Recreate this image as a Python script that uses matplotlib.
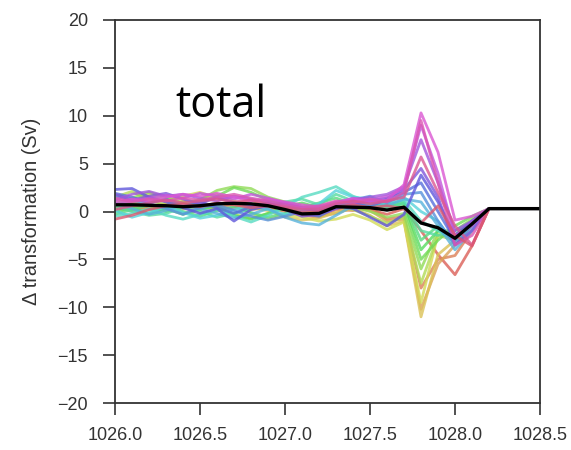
import matplotlib
matplotlib.use("Agg")
import matplotlib.pyplot as plt
import seaborn as sns

# Potential density grid (x axis)
density = [1026.0, 1026.1, 1026.2, 1026.3, 1026.4, 1026.5, 1026.6, 1026.7, 1026.8,
           1026.9, 1027.0, 1027.1, 1027.2, 1027.3, 1027.4, 1027.5, 1027.6, 1027.7,
           1027.8, 1027.9, 1028.0, 1028.1, 1028.2, 1028.3, 1028.4, 1028.5]

# Change in transformation (Sv) for each ensemble member
member_00 = [0.2, 0.5, 0.3, 0.6, 0.4, 0.8, 0.5, 0.3, 0.6, 0.9, 0.4, 0.1, -0.2, 0.3, 0.6, 0.2, -0.3, 0.3, -2.0, -4.5, -6.6, -3.6, 0.3, 0.3, 0.3, 0.3]
member_01 = [0.4, 0.1, 0.5, 0.8, 0.3, 0.2, 0.9, 0.6, 0.2, 0.4, 0.0, -0.4, -0.6, 0.2, 0.1, 0.5, -0.8, -0.5, -8.0, -5.0, -4.6, -2.0, 0.3, 0.3, 0.3, 0.3]
member_02 = [0.9, 0.6, 0.2, 0.4, 1.1, 0.7, 0.3, 0.8, 1.2, 0.5, 0.2, -0.3, -0.5, -0.2, 0.4, 0.1, -1.0, -0.8, -10.2, -5.5, -3.5, -1.5, 0.3, 0.3, 0.3, 0.3]
member_03 = [1.2, 0.8, 1.5, 1.0, 0.6, 1.3, 1.8, 1.1, 0.4, 0.1, -0.6, -0.9, -0.7, -0.1, 0.3, -0.4, -1.5, -1.0, -11.0, -4.5, -3.0, -1.0, 0.3, 0.3, 0.3, 0.3]
member_04 = [0.5, 1.0, 1.8, 1.2, 1.6, 2.0, 1.4, 0.9, -0.2, -0.8, -0.4, -0.6, -1.0, -0.8, -0.3, -0.9, -1.9, -1.1, -9.5, -2.4, -2.5, -1.0, 0.3, 0.3, 0.3, 0.3]
member_05 = [1.5, 2.1, 1.2, 0.7, 1.0, 0.5, 0.2, -0.3, -0.7, -0.2, 0.3, -0.2, 0.1, 0.6, 0.2, -0.5, -1.2, -0.6, -7.5, -2.5, -3.0, -1.2, 0.3, 0.3, 0.3, 0.3]
member_06 = [0.8, 1.4, 2.0, 1.5, 0.9, 1.2, 2.2, 2.6, 2.4, 1.5, 1.0, 0.6, 0.2, 0.9, 0.5, 0.0, -0.6, -0.2, -6.0, -2.0, -2.0, -0.8, 0.3, 0.3, 0.3, 0.3]
member_07 = [0.3, 0.9, 0.6, 0.0, 0.5, 0.9, 1.6, 2.5, 2.0, 1.2, 0.8, 0.2, -0.4, 0.5, 1.0, 0.6, 0.2, 0.5, -5.0, -3.0, -1.5, -0.5, 0.3, 0.3, 0.3, 0.3]
member_08 = [0.0, 0.4, -0.2, 0.3, -0.3, 0.2, 0.6, -0.4, -0.8, -0.2, 0.5, 0.9, 0.4, 0.8, 0.3, 0.9, 0.5, 0.8, -4.0, -2.0, -2.5, -1.0, 0.3, 0.3, 0.3, 0.3]
member_09 = [-0.3, 0.2, 0.7, 0.4, 0.0, -0.5, 0.1, 0.5, -0.1, -0.6, -0.2, 0.4, 0.9, 1.4, 0.8, 1.2, 0.7, 1.0, -3.0, -1.5, -3.0, -1.5, 0.3, 0.3, 0.3, 0.3]
member_10 = [0.6, 0.0, -0.4, -0.2, 0.4, 0.0, -0.6, -0.2, 0.3, 0.6, 1.0, 1.3, 0.7, 1.8, 1.1, 0.7, 0.3, 0.9, -2.0, -2.5, -2.0, -1.0, 0.3, 0.3, 0.3, 0.3]
member_11 = [-0.5, -0.2, 0.3, -0.4, -0.8, -0.3, 0.2, -0.5, -1.1, -0.4, 0.5, 1.5, 2.0, 2.6, 1.6, 1.0, 0.8, 1.2, -1.0, -2.0, -3.0, -1.5, 0.3, 0.3, 0.3, 0.3]
member_12 = [0.1, -0.6, -0.1, 0.5, -0.1, -0.7, -0.4, 0.2, 0.6, 0.2, -0.3, 0.1, 0.8, 2.2, 1.5, 1.3, 1.1, 1.5, 0.0, -1.0, -3.5, -2.0, 0.3, 0.3, 0.3, 0.3]
member_13 = [0.9, 0.3, -0.3, 0.1, 0.7, 0.3, -0.2, -0.7, -0.3, 0.3, -0.6, -1.2, -1.4, -0.4, 0.6, 1.0, 0.6, 1.3, 1.0, -1.5, -4.0, -2.0, 0.3, 0.3, 0.3, 0.3]
member_14 = [1.6, 1.2, 0.8, 0.3, -0.3, 0.4, 0.7, 0.1, -0.5, -0.9, -0.5, 0.0, 0.5, 0.7, 1.2, 1.6, 0.9, 1.8, 2.0, -1.0, -3.5, -1.5, 0.3, 0.3, 0.3, 0.3]
member_15 = [1.9, 1.5, 0.9, 1.3, 0.6, 1.0, 0.4, -0.2, 0.5, 0.9, 0.3, -0.2, -0.5, 0.4, 0.9, 0.5, 1.3, 2.0, 3.0, 0.0, -3.0, -1.0, 0.3, 0.3, 0.3, 0.3]
member_16 = [2.3, 2.4, 1.5, 1.0, 0.4, -0.2, 0.3, -1.0, 0.2, 0.6, 0.9, 0.4, 0.0, 0.6, 0.3, -0.6, -1.5, -0.3, 3.8, 1.0, -2.5, -1.0, 0.3, 0.3, 0.3, 0.3]
member_17 = [1.8, 1.2, 1.6, 1.9, 1.3, 0.8, 1.5, 0.9, 0.6, 0.8, 0.2, -0.5, -0.3, 0.3, 0.8, 1.1, 1.4, 2.3, 4.5, 1.5, -3.5, -2.0, 0.3, 0.3, 0.3, 0.3]
member_18 = [1.2, 1.8, 2.1, 1.6, 1.8, 1.4, 1.1, 1.6, 1.3, 1.0, 0.6, 0.3, 0.1, 0.7, 1.2, 1.5, 1.8, 2.6, 7.5, 3.0, -2.0, -1.0, 0.3, 0.3, 0.3, 0.3]
member_19 = [0.7, 1.1, 1.4, 1.7, 1.4, 1.9, 1.6, 1.3, 1.8, 1.4, 0.9, 0.5, 0.3, 0.9, 1.4, 1.2, 1.6, 2.4, 9.0, 4.0, -2.5, -1.5, 0.3, 0.3, 0.3, 0.3]
member_20 = [1.0, 1.3, 1.1, 1.5, 1.8, 1.6, 1.9, 1.5, 1.1, 1.3, 1.0, 0.7, 0.5, 1.0, 1.3, 1.0, 1.2, 2.8, 10.3, 6.2, -0.9, -0.5, 0.3, 0.3, 0.3, 0.3]
member_21 = [1.4, 1.0, 1.3, 1.1, 1.4, 1.2, 1.5, 1.8, 1.4, 1.1, 0.7, 0.4, 0.6, 1.1, 0.9, 1.3, 1.0, 2.0, 9.5, 3.0, -3.5, -2.5, 0.3, 0.3, 0.3, 0.3]
member_22 = [0.2, 0.6, 0.9, 1.2, 0.9, 1.1, 1.3, 1.0, 1.2, 0.8, 0.5, 0.2, 0.3, 0.8, 1.1, 0.8, 1.1, 1.5, 5.7, 2.0, -1.5, -3.5, 0.3, 0.3, 0.3, 0.3]
member_23 = [-0.8, -0.4, 0.2, 0.6, 0.8, 0.5, 0.9, 0.7, 0.4, 0.6, 0.3, -0.1, 0.0, 0.5, 0.7, 0.4, 0.6, 0.3, -1.2, 0.6, -2.5, -3.6, 0.3, 0.3, 0.3, 0.3]

members = [member_00, member_01, member_02, member_03, member_04, member_05,
           member_06, member_07, member_08, member_09, member_10, member_11,
           member_12, member_13, member_14, member_15, member_16, member_17,
           member_18, member_19, member_20, member_21, member_22, member_23]

# Ensemble mean
ensemble_mean = [0.7, 0.7, 0.65, 0.6, 0.5, 0.6, 0.8, 0.85, 0.8, 0.6, 0.2, -0.25, -0.2,
                 0.5, 0.45, 0.4, 0.15, 0.45, -1.2, -1.7, -2.8, -1.3, 0.3, 0.3, 0.3, 0.3]

panel_title = "total"
y_label = "\u0394 transformation (Sv)"
x_ticks = [1026.0, 1026.5, 1027.0, 1027.5, 1028.0, 1028.5]
y_ticks = [-20, -15, -10, -5, 0, 5, 10, 15, 20]

plt.rcParams["font.family"] = ["Liberation Sans", "DejaVu Sans"]

fig = plt.figure(figsize=(5.71, 4.5), dpi=100)
ax = fig.add_axes([115 / 571, 1 - 403 / 450, 425 / 571, 383 / 450])

colors = sns.hls_palette(len(members))
for vals, c in zip(members, colors):
    ax.plot(density, vals, color=c, lw=2.0, alpha=0.8)
ax.plot(density, ensemble_mean, color="black", lw=2.4)

ax.set_xlim(1026.0, 1028.5)
ax.set_ylim(-20, 20)
ax.set_xticks(x_ticks)
ax.set_xticklabels([f"{v:.1f}" for v in x_ticks])
ax.set_yticks(y_ticks)

for sp in ax.spines.values():
    sp.set_color("#333333")
    sp.set_linewidth(1.3)

ax.tick_params(axis="both", direction="out", length=8.5, width=1.2,
               color="#333333", labelsize=13, labelcolor="#333333")
ax.tick_params(axis="y", pad=11)
ax.tick_params(axis="x", pad=9)
ax.set_ylabel(y_label, fontsize=14.3, color="#333333", labelpad=12)

ax.text(0.141, 0.747, panel_title, transform=ax.transAxes, fontsize=31,
        family=["Open Sans", "DejaVu Sans"], color="black", va="baseline", ha="left")

fig.savefig("out.png", dpi=100)
